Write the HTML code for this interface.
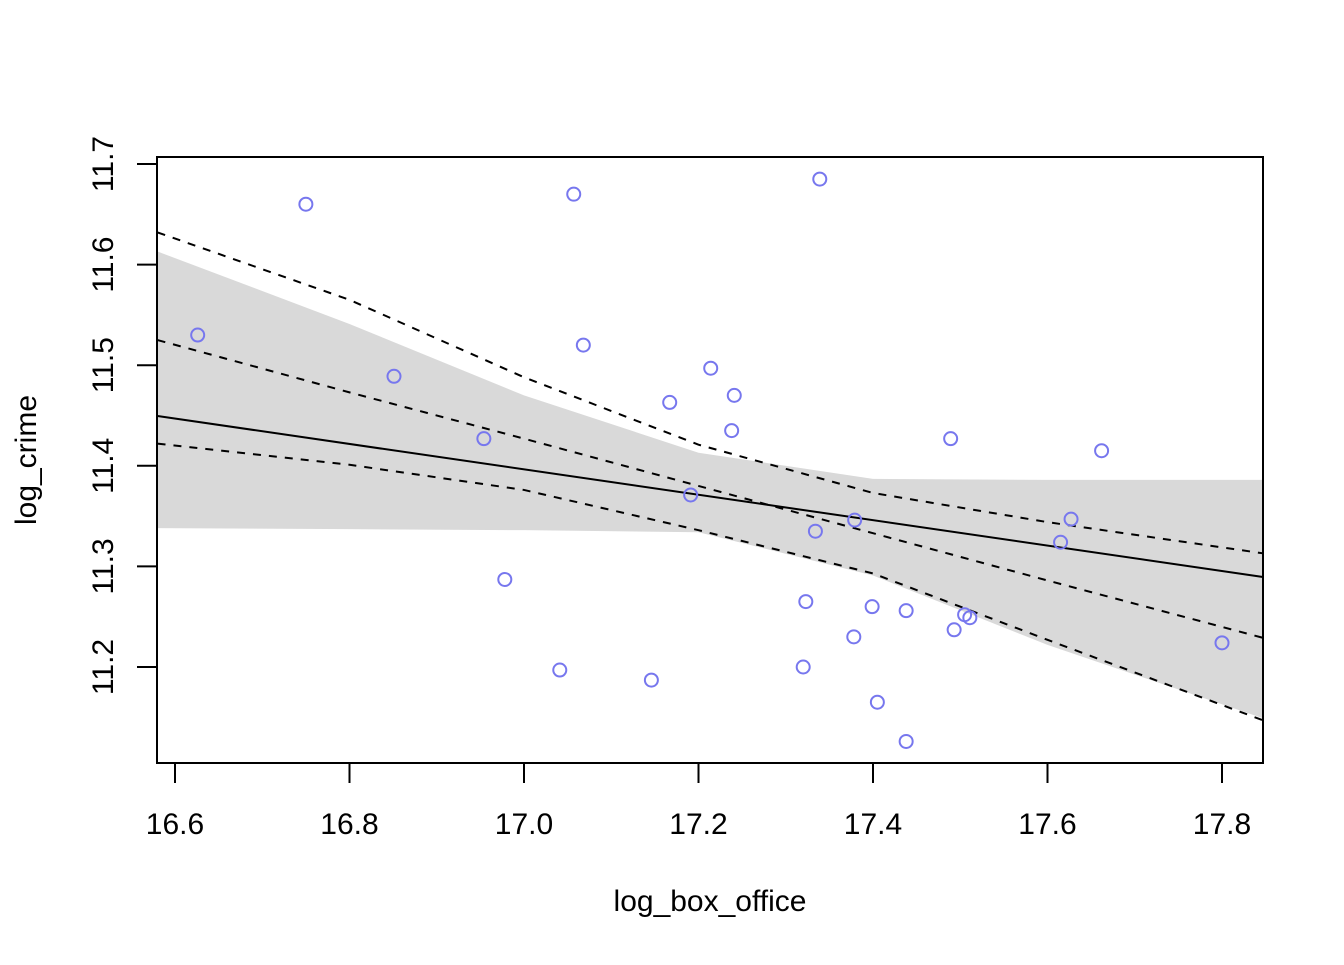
<!DOCTYPE html>
<html><head><meta charset="utf-8"><style>
html,body{margin:0;padding:0;background:#fff;}
svg text{font-family:"Liberation Sans",Arial,sans-serif;fill:#000;}
</style></head><body>
<svg id="chart" width="1344" height="960" xmlns="http://www.w3.org/2000/svg">
<g id="band-layer"></g>
<g id="line-layer"></g>
<g id="point-layer"></g>
<g id="axis-layer"></g>
<rect x="157" y="157" width="1106" height="606" fill="none" stroke="#000" stroke-width="2"/>
<text x="710" y="911" font-size="30" text-anchor="middle">log_box_office</text>
<text transform="translate(36,460) rotate(-90)" font-size="30" text-anchor="middle">log_crime</text>
</svg>
<script>
const xs = [16.626,16.750,16.851,16.954,16.978,17.041,17.057,17.068,17.146,17.167,17.191,17.214,17.238,17.241,17.320,17.323,17.334,17.339,17.378,17.379,17.399,17.405,17.438,17.438,17.489,17.493,17.505,17.511,17.615,17.627,17.662,17.800];
const ys = [11.530,11.660,11.489,11.427,11.287,11.197,11.670,11.520,11.187,11.463,11.371,11.497,11.435,11.470,11.200,11.265,11.335,11.685,11.230,11.346,11.260,11.165,11.256,11.126,11.427,11.237,11.252,11.249,11.324,11.347,11.415,11.224];
const curveX = [16.58,16.8,17.0,17.2,17.4,17.6,17.847];
const fitLine = [11.4495,11.2895];
const upperDash = [11.632,11.565,11.488,11.421,11.373,11.344,11.313];
const midDash = [11.525,11.473,11.427,11.380,11.333,11.286,11.229];
const lowerDash = [11.422,11.401,11.376,11.336,11.293,11.227,11.147];
const bandTop = [11.613,11.541,11.470,11.413,11.387,11.386,11.386];
const bandBottom = [11.338,11.337,11.336,11.334,11.291,11.222,11.149];
const xTicks = ["16.6","16.8","17.0","17.2","17.4","17.6","17.8"];
const yTicks = ["11.2","11.3","11.4","11.5","11.6","11.7"];

const NS="http://www.w3.org/2000/svg";
function sx(v){return 175+(v-16.6)*872.5;}
function sy(v){return 667-(v-11.2)*1006;}
function mk(tag,parent){const e=document.createElementNS(NS,tag);document.getElementById(parent).appendChild(e);return e;}

const band=mk('polygon','band-layer');


let pts=curveX.map((x,i)=>sx(x)+','+sy(bandTop[i]));
for(let i=curveX.length-1;i>=0;i--)pts.push(sx(curveX[i])+','+sy(bandBottom[i]));
band.setAttribute('points',pts.join(' '));
band.setAttribute('fill','#d9d9d9');

const fit=mk('line','line-layer');


fit.setAttribute('x1',sx(curveX[0]));fit.setAttribute('y1',sy(fitLine[0]));
fit.setAttribute('x2',sx(curveX[curveX.length-1]));fit.setAttribute('y2',sy(fitLine[1]));
fit.setAttribute('stroke','#000');fit.setAttribute('stroke-width','2');

[[upperDash,'upper-dashed-line'],[midDash,'middle-dashed-line'],[lowerDash,'lower-dashed-line']].forEach(([arr,name])=>{
  const p=mk('polyline','line-layer');
  
  
  p.setAttribute('points',curveX.map((x,i)=>sx(x)+','+sy(arr[i])).join(' '));
  p.setAttribute('fill','none');p.setAttribute('stroke','#000');p.setAttribute('stroke-width','2');
  p.setAttribute('stroke-dasharray','8 8');
});

xs.forEach((x,i)=>{
  const c=mk('circle','point-layer');
  
  
  c.setAttribute('cx',sx(x));c.setAttribute('cy',sy(ys[i]));c.setAttribute('r','6.5');
  c.setAttribute('fill','none');c.setAttribute('stroke','#7777ee');c.setAttribute('stroke-width','2');
});

xTicks.forEach(t=>{
  const X=sx(parseFloat(t));
  const l=mk('line','axis-layer');
  
  
  l.setAttribute('x1',X);l.setAttribute('x2',X);l.setAttribute('y1',763);l.setAttribute('y2',783);
  l.setAttribute('stroke','#000');l.setAttribute('stroke-width','2');
  const tx=mk('text','axis-layer');
  
  
  tx.setAttribute('x',X);tx.setAttribute('y',834);tx.setAttribute('font-size','30');tx.setAttribute('text-anchor','middle');
  tx.textContent=t;
});
yTicks.forEach(t=>{
  const Y=sy(parseFloat(t));
  const l=mk('line','axis-layer');
  
  
  l.setAttribute('x1',137);l.setAttribute('x2',157);l.setAttribute('y1',Y);l.setAttribute('y2',Y);
  l.setAttribute('stroke','#000');l.setAttribute('stroke-width','2');
  const tx=mk('text','axis-layer');
  
  
  tx.setAttribute('transform','translate(113,'+Y+') rotate(-90)');
  tx.setAttribute('font-size','30');tx.setAttribute('text-anchor','middle');
  tx.textContent=t;
});
</script>
</body></html>
